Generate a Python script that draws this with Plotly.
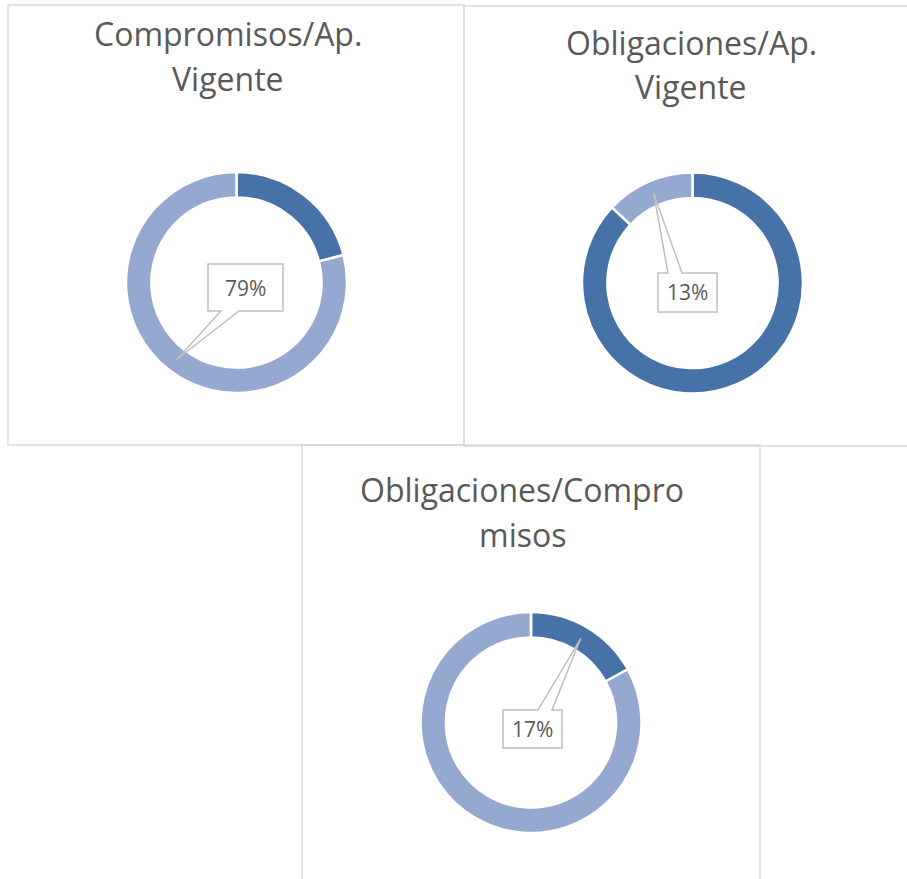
import math
import plotly.graph_objects as go

# ---------------- data ----------------
titles = [["Compromisos/Ap.", "Vigente"],
          ["Obligaciones/Ap.", "Vigente"],
          ["Obligaciones/Compro", "misos"]]
categories = ["Ejecutado", "Resto"]
chart1_values = [21, 79]
chart2_values = [87, 13]
chart3_values = [17, 83]
label_slice = [1, 1, 0]          # which slice carries the data label

all_values = [chart1_values, chart2_values, chart3_values]

# ---------------- layout helpers ----------------
W, H = 907, 879
def px(x): return x / W
def py(y): return 1 - y / H

DARK = "#4672a7"
LIGHT = "#95a9d0"
TXT = "#595959"
BORDER = "#d9d9d9"
CALLOUT = "#bfbfbf"
FONT = "Open Sans"

centers = [(236.5, 282.5), (692.5, 283.0), (531.0, 722.5)]
R = 110.5
HOLE = 0.77
title_x = [228, 691, 522]
title_base = [(46, 91), (55, 99), (502, 547)]
TFS = 32
# label boxes: x0, y0, x1, y1, pointer side, pointer base x1, x2
boxes = [(208, 264, 283, 311, "bottom", 221, 239),
         (658, 273, 717, 312, "top", 668, 682),
         (503, 710, 562, 748, "top", 538, 552)]

fig = go.Figure()
shapes = []
annotations = []

# panel borders
for (x0, y0, x1, y1) in [(8, 5, 464, 445), (464, 6, 912, 446), (302, 445, 760, 885)]:
    shapes.append(dict(type="rect", xref="paper", yref="paper",
                       x0=px(x0), x1=px(x1), y0=py(y1), y1=py(y0),
                       line=dict(color=BORDER, width=1.3), layer="below"))

for i, vals in enumerate(all_values):
    cx, cy = centers[i]
    fig.add_trace(go.Pie(
        values=vals, labels=categories, sort=False, direction="clockwise",
        rotation=0, hole=HOLE, textinfo="none", hoverinfo="label+percent",
        showlegend=False,
        marker=dict(colors=[DARK, LIGHT], line=dict(color="white", width=2.5)),
        domain=dict(x=[px(cx - R), px(cx + R)], y=[py(cy + R), py(cy - R)]),
    ))
    # titles
    for line, base in zip(titles[i], title_base[i]):
        annotations.append(dict(text=line, xref="paper", yref="paper",
                                x=px(title_x[i]), y=py(base - 0.39 * TFS),
                                xanchor="center", yanchor="middle", showarrow=False,
                                font=dict(family=FONT, size=TFS, color=TXT)))
    # data label callout
    k = label_slice[i]
    total = sum(vals)
    start = sum(vals[:k]) / total
    mid = start + vals[k] / total / 2
    ang = mid * 2 * math.pi
    rmid = R * (1 + HOLE) / 2
    tx = cx + rmid * math.sin(ang)
    ty = cy - rmid * math.cos(ang)
    x0, y0, x1, y1, side, b1, b2 = boxes[i]
    if side == "bottom":
        pts = [(b1, y1), (x0, y1), (x0, y0), (x1, y0), (x1, y1), (b2, y1), (tx, ty)]
    else:
        pts = [(b2, y0), (x1, y0), (x1, y1), (x0, y1), (x0, y0), (b1, y0), (tx, ty)]
    path = "M " + " L ".join(f"{px(a):.5f},{py(b):.5f}" for a, b in pts) + " Z"
    shapes.append(dict(type="path", xref="paper", yref="paper", path=path,
                       line=dict(color=CALLOUT, width=1.5),
                       fillcolor="rgba(0,0,0,0)", layer="above"))
    pct = round(vals[k] / total * 100)
    annotations.append(dict(text=f"{pct}%", xref="paper", yref="paper",
                            x=px((x0 + x1) / 2), y=py((y0 + y1) / 2),
                            xanchor="center", yanchor="middle", showarrow=False,
                            font=dict(family=FONT, size=21, color=TXT)))

fig.update_layout(width=W, height=H, margin=dict(l=0, r=0, t=0, b=0),
                  paper_bgcolor="white", plot_bgcolor="white",
                  shapes=shapes, annotations=annotations)
fig.write_html("out.html", config={"displayModeBar": False},
               post_script="document.body.style.margin='0px';document.body.style.overflow='hidden';")
